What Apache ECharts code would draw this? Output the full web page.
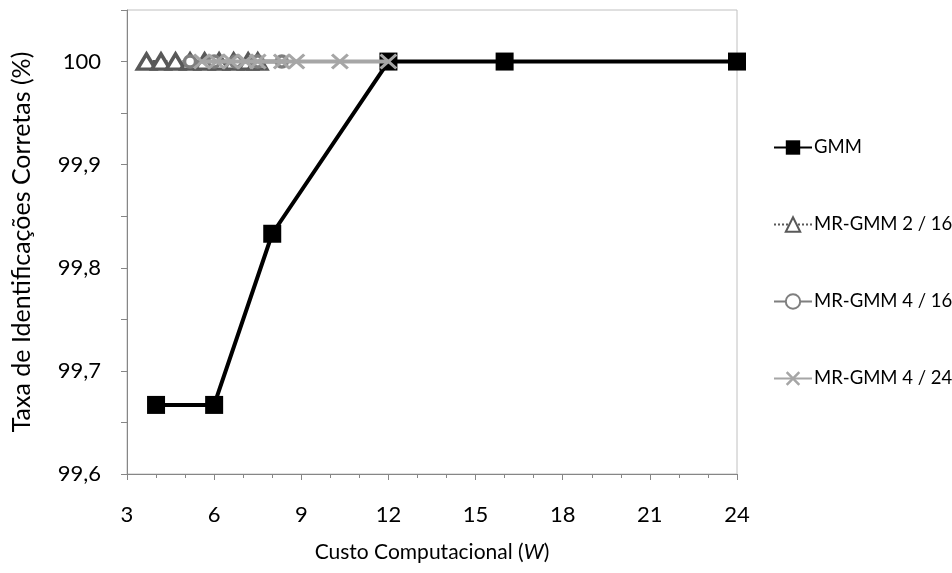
<!DOCTYPE html>
<html>
<head>
<meta charset="utf-8">
<script src="https://cdn.jsdelivr.net/npm/echarts@6/dist/echarts.min.js"></script>
<style>html,body{margin:0;padding:0;background:#fff}#c{width:952px;height:573px}</style>
</head>
<body>
<div id="c"></div>
<script>
const seriesNames = ['GMM', 'MR-GMM 2 / 16', 'MR-GMM 4 / 16', 'MR-GMM 4 / 24'];
const gmmX = [4, 6, 8, 12, 16, 24];
const gmmY = [99.667, 99.667, 99.833, 100, 100, 100];
const mr216X = [3.67, 4.17, 4.67, 5.17, 5.67, 6.17, 6.67, 7.17, 7.5];
const mr216Y = [100, 100, 100, 100, 100, 100, 100, 100, 100];
const mr416X = [5.17, 6.0, 6.75, 7.5, 8.33];
const mr416Y = [100, 100, 100, 100, 100];
const mr424X = [5.58, 6.08, 6.58, 7.08, 7.5, 8.33, 8.83, 10.33, 12];
const mr424Y = [100, 100, 100, 100, 100, 100, 100, 100, 100];
const xTickLabels = [3, 6, 9, 12, 15, 18, 21, 24];
const yTickLabels = ['99,6', '99,7', '99,8', '99,9', '100'];

const zip = (xs, ys) => xs.map((x, i) => [x, ys[i]]);
const FONT = 'Lato, "Open Sans", sans-serif';
const crossPath = 'path://M2,0 L8,6 L14,0 L16,2 L10,8 L16,14 L14,16 L8,10 L2,16 L0,14 L6,8 L0,2 Z';

const chart = echarts.init(document.getElementById('c'), null, {renderer: 'canvas'});
chart.setOption({
  animation: false,
  backgroundColor: '#fff',
  grid: {left: 127, top: 10, right: 215, bottom: 99, show: true, borderColor: '#c0c0c0', borderWidth: 1},
  xAxis: {
    type: 'value', min: 3, max: 24, interval: 3,
    name: 'Custo Computacional ({i|W})', nameLocation: 'middle', nameGap: 68,
    nameTextStyle: {fontFamily: FONT, fontSize: 21, color: '#000',
      rich: {i: {fontFamily: FONT, fontSize: 21, fontStyle: 'italic', color: '#000'}}},
    axisLine: {lineStyle: {color: '#868686', width: 1}},
    axisTick: {show: true, length: 6, lineStyle: {color: '#868686'}},
    minorTick: {show: true, splitNumber: 3, length: 4, lineStyle: {color: '#868686'}},
    splitLine: {show: false},
    axisLabel: {fontFamily: FONT, fontSize: 22, color: '#000', margin: 30,
      formatter: v => xTickLabels.includes(Math.round(v)) ? String(Math.round(v)) : ''}
  },
  yAxis: {
    type: 'value', min: 99.6, max: 100.05, interval: 0.05,
    name: 'Taxa de Identificações Corretas (%)', nameLocation: 'middle', nameGap: 93,
    nameTextStyle: {fontFamily: FONT, fontSize: 25, color: '#000'},
    axisLine: {show: true, lineStyle: {color: '#868686', width: 1}},
    axisTick: {show: true, length: 6, lineStyle: {color: '#868686'}},
    splitLine: {show: false},
    axisLabel: {fontFamily: FONT, fontSize: 22, color: '#000', margin: 26,
      formatter: v => {
        const k = Math.round(v * 20);
        if (k % 2 !== 0) return '';
        const idx = Math.round((v - 99.6) * 10);
        return yTickLabels[idx] !== undefined ? yTickLabels[idx] : '';
      }}
  },
  legend: {
    orient: 'vertical', left: 768, top: 133, itemGap: 58, itemWidth: 38, itemHeight: 18,
    textStyle: {fontFamily: FONT, fontSize: 18.5, color: '#000', padding: [0, 0, 0, -3]},
    data: seriesNames
  },
  series: [
    {name: seriesNames[0], type: 'line', data: zip(gmmX, gmmY), symbol: 'rect', symbolSize: 18,
     lineStyle: {color: '#000', width: 4}, itemStyle: {color: '#000'}, z: 2},
    {name: seriesNames[1], type: 'line', data: zip(mr216X, mr216Y), symbol: 'triangle', symbolSize: [18, 15],
     lineStyle: {color: '#595959', width: 3, type: 'dotted'},
     itemStyle: {color: '#fff', borderColor: '#595959', borderWidth: 3.5}, z: 3},
    {name: seriesNames[2], type: 'line', data: zip(mr416X, mr416Y), symbol: 'circle', symbolSize: 11,
     lineStyle: {color: '#7f7f7f', width: 4},
     itemStyle: {color: '#fff', borderColor: '#7f7f7f', borderWidth: 3.5}, z: 4},
    {name: seriesNames[3], type: 'line', data: zip(mr424X, mr424Y), symbol: crossPath, symbolSize: [18, 16],
     lineStyle: {color: '#a6a6a6', width: 4}, itemStyle: {color: '#a6a6a6'}, z: 5}
  ]
});
</script>
</body>
</html>
